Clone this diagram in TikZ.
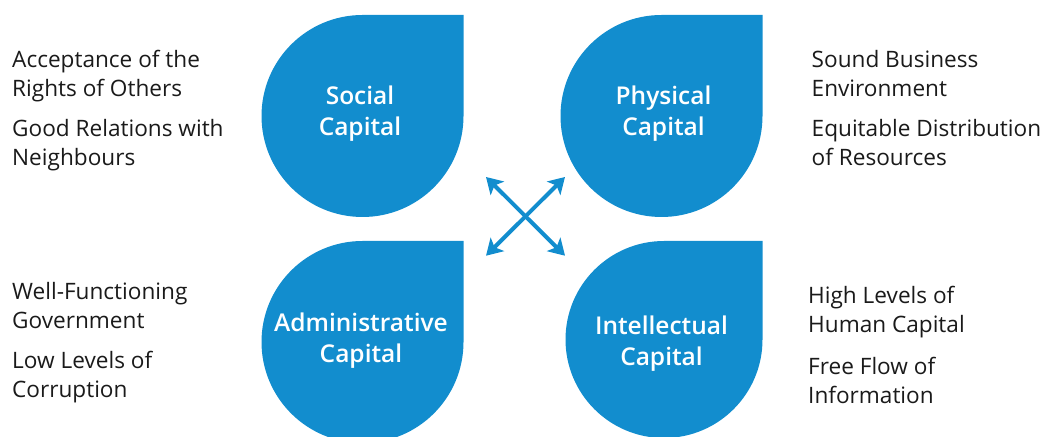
\documentclass[tikz,border=0pt]{standalone}
\usepackage{fontspec}
\setmainfont{Open Sans}
\newfontfamily\dropfont{Open Sans Semibold}
\usetikzlibrary{arrows.meta}
\definecolor{capblue}{RGB}{18,141,206}
\definecolor{notetext}{RGB}{26,26,26}
\tikzset{
  drop/.style={fill=capblue},
  droplabel/.style={text=white, align=center, inner sep=0pt, anchor=base,
    font=\dropfont\fontsize{24.5}{31.4}\selectfont},
  notes/.style={text=notetext, align=left, inner sep=0pt, anchor=base west,
    font=\fontsize{22.6}{29}\selectfont},
  link/.style={capblue, line width=4pt,
    {Stealth[length=16pt,width=19pt,inset=4pt]}-{Stealth[length=16pt,width=19pt,inset=4pt]}},
}
\begin{document}
\begin{tikzpicture}[x=1pt,y=1pt]
  \useasboundingbox (0,0) rectangle (1043,436);
  % drops, square corner top right
  \fill[drop] (463.5,421) -- (463.5,320) arc[start angle=0, end angle=-270, radius=101] -- cycle;
  \fill[drop] (762.5,421) -- (762.5,320) arc[start angle=0, end angle=-270, radius=101] -- cycle;
  \fill[drop] (463.5,195) -- (463.5,94) arc[start angle=0, end angle=-270, radius=101] -- cycle;
  \fill[drop] (762.5,195) -- (762.5,96.5) arc[start angle=0, end angle=-270, radius=98.5] -- cycle;
  % labels sit on their last line
  \node[droplabel] (social) at (360,300.3) {Social\\Capital};
  \node[droplabel] (physical) at (663.5,300.3) {Physical\\Capital};
  \node[droplabel] (admin) at (361,73) {Administrative\\Capital};
  \node[droplabel] (intel) at (661.5,70.5) {Intellectual\\Capital};
  % notes beside the drops
  \node[notes] (socialnotes) at (12,270) {Acceptance of the\\Rights of Others\\[11pt]Good Relations with\\Neighbours};
  \node[notes] (physnotes) at (811.5,270) {Sound Business\\Environment\\[11pt]Equitable Distribution\\of Resources};
  \node[notes] (adminnotes) at (12,38) {Well-Functioning\\Government\\[11pt]Low Levels of\\Corruption};
  \node[notes] (intelnotes) at (808,32) {High Levels of\\Human Capital\\[13pt]Free Flow of\\Information};
  % cross in the middle
  \coordinate (ul) at (486,259);
  \coordinate (ur) at (565,259);
  \coordinate (ll) at (486,180.3);
  \coordinate (lr) at (565,180.3);
  \draw[link] (ul) -- (lr);
  \draw[link] (ur) -- (ll);
\end{tikzpicture}
\end{document}
